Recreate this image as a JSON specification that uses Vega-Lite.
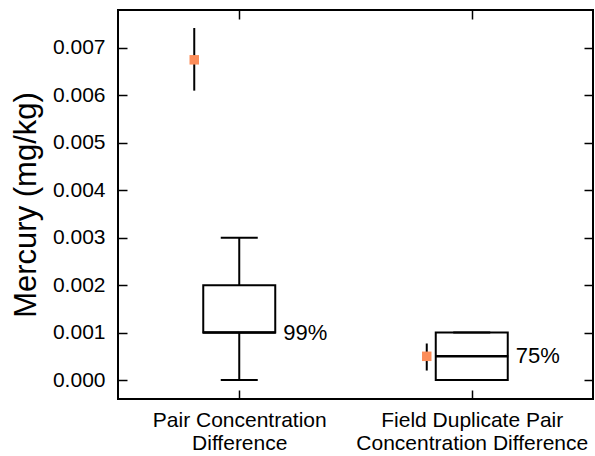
{
  "$schema": "https://vega.github.io/schema/vega-lite/v6.json",
  "autosize": "none",
  "width": 475,
  "height": 389,
  "padding": {"left": 118, "top": 10, "right": 2, "bottom": 57},
  "background": "white",
  "config": {
    "font": "Liberation Sans",
    "view": {"stroke": "black", "strokeWidth": 2},
    "axis": {"grid": false, "domain": false, "tickColor": "black", "tickWidth": 1.5, "tickSize": -9, "labelColor": "black", "titleColor": "black", "labelLimit": 0}
  },
  "data": {
    "values": [
      {"pos": 1, "name": "Pair Concentration Difference", "lo": 0, "q1": 0.001, "median": 0.001, "q3": 0.002, "hi": 0.003, "pct": "99%", "mean": 0.00675, "mlo": 0.0061, "mhi": 0.00742},
      {"pos": 2, "name": "Field Duplicate Pair Concentration Difference", "lo": 0, "q1": 0, "median": 0.0005, "q3": 0.001, "hi": 0.001, "pct": "75%", "mean": 0.0005, "mlo": 0.0002, "mhi": 0.00077}
    ]
  },
  "resolve": {"axis": {"x": "independent", "y": "independent"}},
  "layer": [
    {
      "mark": {"type": "rule", "color": "black", "strokeWidth": 2},
      "encoding": {
        "x": {"field": "pos", "type": "quantitative", "scale": {"domain": [0.5, 2.5], "nice": false, "zero": false},
          "axis": {"orient": "bottom", "values": [1, 2], "title": null, "labelFontSize": 21, "labelPadding": 19, "labelLineHeight": 23,
            "labelExpr": "datum.value == 1 ? ['Pair Concentration', 'Difference'] : ['Field Duplicate Pair', 'Concentration Difference']"}},
        "y": {"field": "q3", "type": "quantitative", "scale": {"domain": [-0.0004, 0.0078], "nice": false, "zero": false},
          "axis": {"orient": "left", "values": [0, 0.001, 0.002, 0.003, 0.004, 0.005, 0.006, 0.007], "format": ".3f", "labelFontSize": 21, "labelPadding": 22,
            "title": "Mercury (mg/kg)", "titleFontSize": 31, "titleFontWeight": "normal", "titlePadding": 10}},
        "y2": {"field": "hi"}
      }
    },
    {
      "mark": {"type": "rule", "color": "black", "strokeWidth": 2},
      "encoding": {
        "x": {"field": "pos", "type": "quantitative", "axis": {"orient": "top", "values": [1, 2], "labels": false, "title": null}},
        "y": {"field": "lo", "type": "quantitative", "axis": {"orient": "right", "values": [0, 0.001, 0.002, 0.003, 0.004, 0.005, 0.006, 0.007], "labels": false, "title": null}},
        "y2": {"field": "q1"}
      }
    },
    {
      "mark": {"type": "bar", "orient": "vertical", "size": 72, "fill": "white", "stroke": "black", "strokeWidth": 2},
      "encoding": {
        "x": {"field": "pos", "type": "quantitative", "axis": null},
        "y": {"field": "q3", "type": "quantitative", "axis": null},
        "y2": {"field": "q1"}
      }
    },
    {
      "mark": {"type": "tick", "orient": "horizontal", "size": 37, "thickness": 2, "color": "black", "opacity": 1},
      "encoding": {
        "x": {"field": "pos", "type": "quantitative", "axis": null},
        "y": {"field": "hi", "type": "quantitative", "axis": null}
      }
    },
    {
      "mark": {"type": "tick", "orient": "horizontal", "size": 37, "thickness": 2, "color": "black", "opacity": 1},
      "encoding": {
        "x": {"field": "pos", "type": "quantitative", "axis": null},
        "y": {"field": "lo", "type": "quantitative", "axis": null}
      }
    },
    {
      "mark": {"type": "tick", "orient": "horizontal", "size": 73, "thickness": 2.5, "color": "black", "opacity": 1},
      "encoding": {
        "x": {"field": "pos", "type": "quantitative", "axis": null},
        "y": {"field": "median", "type": "quantitative", "axis": null}
      }
    },
    {
      "mark": {"type": "text", "align": "left", "baseline": "middle", "dx": 44, "fontSize": 22, "color": "black"},
      "encoding": {
        "x": {"field": "pos", "type": "quantitative", "axis": null},
        "y": {"field": "median", "type": "quantitative", "axis": null},
        "text": {"field": "pct"}
      }
    },
    {
      "mark": {"type": "rule", "color": "black", "strokeWidth": 2, "xOffset": -45},
      "encoding": {
        "x": {"field": "pos", "type": "quantitative", "axis": null},
        "y": {"field": "mlo", "type": "quantitative", "axis": null},
        "y2": {"field": "mhi"}
      }
    },
    {
      "mark": {"type": "point", "shape": "square", "filled": true, "size": 90, "color": "#FC8D59", "opacity": 1, "xOffset": -45},
      "encoding": {
        "x": {"field": "pos", "type": "quantitative", "axis": null},
        "y": {"field": "mean", "type": "quantitative", "axis": null}
      }
    }
  ]
}
